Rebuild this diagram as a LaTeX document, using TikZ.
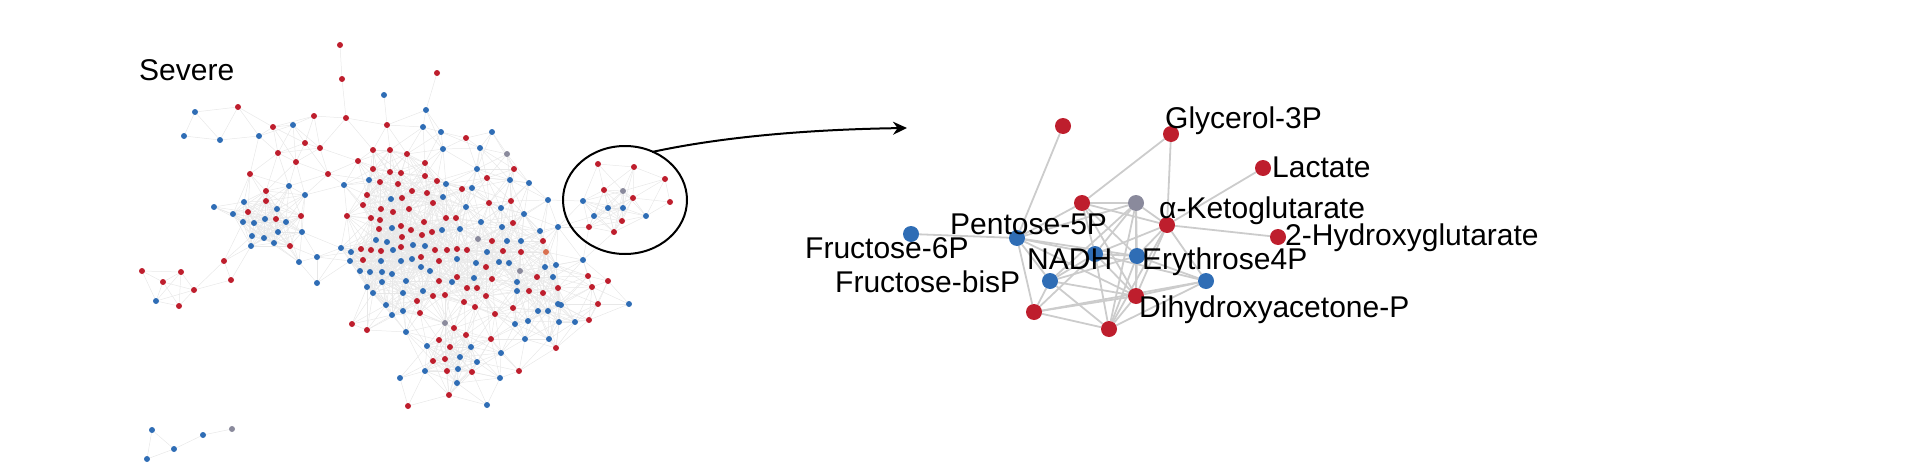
\documentclass[tikz,border=0pt]{standalone}
\usepackage{fontspec}
\setmainfont{Liberation Sans}
\usetikzlibrary{arrows.meta, backgrounds}

\definecolor{metred}{HTML}{BE1E2D}
\definecolor{metblue}{HTML}{2F6DB5}
\definecolor{metgray}{HTML}{8A8A9C}
\definecolor{metorange}{HTML}{D9704F}

\tikzset{
  dot/.style={circle, inner sep=0pt, minimum size=6pt},
  bigdot/.style={circle, inner sep=0pt, minimum size=16pt},
  n-R/.style={fill=metred}, n-B/.style={fill=metblue},
  n-G/.style={fill=metgray}, n-O/.style={fill=metorange},
  link/.style={draw=black!9, line width=0.5pt},
  biglink/.style={draw=black!20, line width=1.8pt},
  metab/.style={font=\fontsize{30}{34}\selectfont, inner sep=0pt, anchor=base west},
}

\begin{document}
\begin{tikzpicture}[x=1pt, y=-1pt]
    \useasboundingbox (0,0) rectangle (1920,463);

    \node[metab] (severe) at (139,80) {Severe};

    % whole network, left
    \foreach [count=\i] \x/\y/\c in {
      340/45/R, 342/79/R, 437/73/R, 238/107/R, 314/116/R, 346/118/R, 273/127/R, 387/125/R,
      305/143/R, 320/148/R, 278/153/R, 296/162/R, 250/174/R, 328/174/R, 358/161/R, 373/150/R,
      390/150/R, 407/154/R, 425/163/R, 466/138/R, 373/169/R, 390/172/R, 401/173/R, 425/176/R,
      380/182/R, 398/184/R, 412/191/R, 427/193/R, 437/181/R, 367/195/R, 402/198/R, 433/203/R,
      462/189/R, 487/178/R, 514/169/R, 489/203/R, 511/201/R, 513/223/R, 266/191/R, 266/201/R,
      248/212/R, 276/219/R, 301/216/R, 290/246/R, 347/216/R, 363/205/R, 381/209/R, 393/212/R,
      409/209/R, 371/218/R, 380/220/R, 379/229/R, 401/226/R, 411/230/R, 422/235/R, 432/232/R,
      424/222/R, 446/218/R, 456/218/R, 402/237/R, 361/249/R, 371/250/R, 381/251/R, 401/247/R,
      363/260/R, 421/257/R, 435/250/R, 447/250/R, 457/249/R, 467/250/R, 439/261/R, 492/241/R,
      503/251/R, 521/252/R, 543/241/R, 486/267/R, 457/277/R, 467/288/R, 477/288/R, 492/279/R,
      439/281/R, 433/296/R, 445/295/R, 464/302/R, 475/307/R, 486/296/R, 495/314/R, 513/308/R,
      537/277/R, 529/291/R, 543/293/R, 558/288/R, 417/301/R, 420/313/R, 352/324/R, 367/330/R,
      454/328/R, 439/340/R, 450/347/R, 466/335/R, 491/339/R, 433/361/R, 445/359/R, 447/371/R,
      472/372/R, 519/371/R, 449/395/R, 408/406/R, 556/348/R, 224/261/R, 231/280/R, 142/271/R,
      181/272/R, 163/282/R, 194/290/R, 179/306/R, 588/276/R, 608/281/R, 592/287/R, 598/304/R,
      589/320/R, 546/252/O,
      195/112/B, 184/136/B, 220/140/B, 259/136/B, 293/125/B, 384/95/B, 426/110/B, 423/127/B,
      441/132/B, 492/132/B, 443/149/B, 480/148/B, 477/169/B, 510/180/B, 529/183/B, 472/188/B,
      446/184/B, 443/197/B, 369/180/B, 344/185/B, 289/186/B, 305/195/B, 244/202/B, 214/207/B,
      233/214/B, 277/209/B, 243/222/B, 254/223/B, 265/219/B, 286/222/B, 278/232/B, 252/236/B,
      264/238/B, 274/243/B, 251/246/B, 302/232/B, 299/262/B, 317/257/B, 317/283/B, 391/199/B,
      466/207/B, 481/222/B, 501/208/B, 524/214/B, 548/200/B, 442/230/B, 460/229/B, 502/227/B,
      540/231/B, 558/227/B, 392/228/B, 376/240/B, 387/242/B, 393/250/B, 413/245/B, 425/246/B,
      341/248/B, 351/252/B, 381/261/B, 401/261/B, 412/259/B, 350/261/B, 360/271/B, 370/272/B,
      382/272/B, 392/274/B, 421/267/B, 430/271/B, 457/259/B, 476/263/B, 487/252/B, 499/262/B,
      509/263/B, 521/241/B, 507/241/B, 545/267/B, 556/265/B, 553/277/B, 517/282/B, 517/291/B,
      474/278/B, 452/282/B, 382/282/B, 406/281/B, 367/287/B, 373/293/B, 403/293/B, 423/291/B,
      386/305/B, 403/311/B, 392/315/B, 406/332/B, 528/321/B, 515/324/B, 538/311/B, 548/311/B,
      558/304/B, 525/339/B, 549/339/B, 427/346/B, 471/347/B, 460/357/B, 477/362/B, 458/369/B,
      425/371/B, 400/378/B, 457/383/B, 501/353/B, 500/378/B, 487/405/B, 156/301/B, 583/260/B,
      575/322/B, 629/304/B, 559/322/B, 561/305/B,
      478/239/G, 520/271/G, 507/154/G, 445/323/G,
      598/164/R, 634/167/R, 665/179/R, 604/190/R, 633/198/R, 670/202/R, 622/221/R, 589/227/R,
      614/232/R, 623/191/G, 583/201/B, 608/208/B, 623/208/B, 594/216/B, 646/216/B,
      152/430/B, 174/449/B, 147/459/B, 203/435/B, 232/429/G} {
      \node[dot, n-\c] (m\i) at (\x,\y) {};
      \expandafter\xdef\csname mx\i\endcsname{\x}
      \expandafter\xdef\csname my\i\endcsname{\y}
      \xdef\nall{\i}
    }

    \begin{scope}[on background layer]
      \pgfmathtruncatemacro\nlast{\nall-1}
      \foreach \i in {1,...,\nlast} {
        \pgfmathtruncatemacro\jfirst{\i+1}
        \foreach \j in {\jfirst,...,\nall} {
          \ifnum\numexpr(\csname mx\i\endcsname-\csname mx\j\endcsname)*(\csname mx\i\endcsname-\csname mx\j\endcsname)
                 +(\csname my\i\endcsname-\csname my\j\endcsname)*(\csname my\i\endcsname-\csname my\j\endcsname)<1936\relax
            \draw[link] (m\i) -- (m\j);
          \fi
        }
      }
    \end{scope}

    \draw[line width=2pt] (625,200) ellipse (62 and 54);
    \coordinate (zoomstart) at (652,152);
    \coordinate (zoomend) at (907,128);
    \draw[line width=2pt, -{Stealth[length=14pt, width=13pt]}] (zoomstart) .. controls (740,133) and (840,129) .. (zoomend);

    % enlarged cluster
    \node[bigdot, n-R] (top)   at (1063,126) {};
    \node[bigdot, n-R] (glyc)  at (1171,134) {};
    \node[bigdot, n-R] (lact)  at (1263,168) {};
    \node[bigdot, n-R] (reda)  at (1082,203) {};
    \node[bigdot, n-G] (grayb) at (1136,203) {};
    \node[bigdot, n-R] (akg)   at (1167,225) {};
    \node[bigdot, n-R] (hg)    at (1278,237) {};
    \node[bigdot, n-B] (fsix)  at (911,234) {};
    \node[bigdot, n-B] (pent)  at (1017,238) {};
    \node[bigdot, n-B] (nadh)  at (1095,254) {};
    \node[bigdot, n-B] (eryt)  at (1137,256) {};
    \node[bigdot, n-B] (fbis)  at (1050,281) {};
    \node[bigdot, n-B] (bluec) at (1206,281) {};
    \node[bigdot, n-R] (dhap)  at (1136,296) {};
    \node[bigdot, n-R] (redd)  at (1034,312) {};
    \node[bigdot, n-R] (rede)  at (1109,329) {};

    \begin{scope}[on background layer]
      \foreach \a/\b in {top/pent, glyc/reda, glyc/akg, lact/akg, akg/hg, fsix/pent,
        reda/grayb, reda/akg, reda/pent, reda/nadh, reda/eryt, reda/dhap,
        grayb/akg, grayb/nadh, grayb/eryt, grayb/dhap, grayb/rede, grayb/fbis, grayb/pent,
        akg/eryt, akg/nadh, akg/dhap, akg/bluec, akg/rede,
        pent/nadh, pent/eryt, pent/fbis, pent/redd, pent/dhap,
        nadh/eryt, nadh/fbis, nadh/dhap, nadh/redd, nadh/rede, nadh/bluec,
        eryt/bluec, eryt/dhap, eryt/rede, eryt/fbis,
        fbis/redd, fbis/rede, fbis/dhap,
        bluec/dhap, bluec/rede, bluec/redd,
        dhap/redd, dhap/rede, redd/rede}
        \draw[biglink] (\a) -- (\b);
    \end{scope}

    \node[metab] (lglyc) at (1165,128) {Glycerol-3P};
    \node[metab] (llact) at (1272,177) {Lactate};
    \node[metab] (lakg)  at (1159,218) {α-Ketoglutarate};
    \node[metab] (lhg)   at (1285,245) {2-Hydroxyglutarate};
    \node[metab] (lpent) at (950,234) {Pentose-5P};
    \node[metab] (lfsix) at (805,258) {Fructose-6P};
    \node[metab] (lnadh) at (1027,269) {NADH};
    \node[metab] (leryt) at (1142,269) {Erythrose4P};
    \node[metab] (lfbis) at (835,292) {Fructose-bisP};
    \node[metab] (ldhap) at (1139,317) {Dihydroxyacetone-P};
\end{tikzpicture}
\end{document}
